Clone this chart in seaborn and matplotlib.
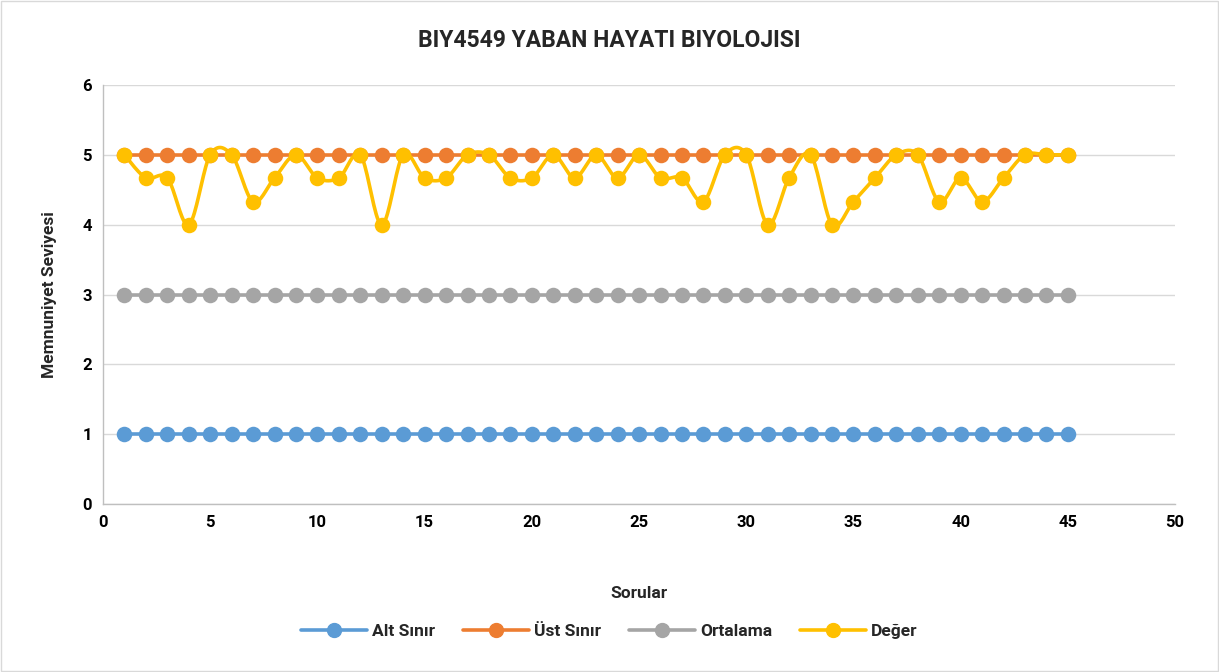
import numpy as np
import pandas as pd
import matplotlib
matplotlib.use("Agg")
import matplotlib.pyplot as plt
import seaborn as sns
from matplotlib.lines import Line2D

sorular = list(range(1, 46))
alt_sinir = [1] * 45
ust_sinir = [5] * 45
ortalama = [3] * 45
deger = [5, 4.67, 4.67, 4, 5, 5, 4.33, 4.67, 5, 4.67,
         4.67, 5, 4, 5, 4.67, 4.67, 5, 5, 4.67, 4.67,
         5, 4.67, 5, 4.67, 5, 4.67, 4.67, 4.33, 5, 5,
         4, 4.67, 5, 4, 4.33, 4.67, 5, 5, 4.33, 4.67,
         4.33, 4.67, 5, 5, 5]

series_names = ["Alt Sınır", "Üst Sınır", "Ortalama", "Değer"]
colors = ["#5B9BD5", "#ED7D31", "#A5A5A5", "#FFC000"]

sns.set_theme(style="white")
plt.rcParams['font.family'] = ['Roboto', 'DejaVu Sans']

fig = plt.figure(figsize=(12.19, 6.72), dpi=100)
ax = fig.add_axes([0.0845, 0.25, 0.8795, 0.6235])

def smooth(xs, ys, n=20):
    xs = np.asarray(xs, float); ys = np.asarray(ys, float)
    px = np.concatenate([[xs[0]], xs, [xs[-1]]])
    py = np.concatenate([[ys[0]], ys, [ys[-1]]])
    ox, oy = [], []
    t = np.linspace(0, 1, n)
    for i in range(1, len(px) - 2):
        p0 = np.array([px[i], py[i]]); p3 = np.array([px[i + 1], py[i + 1]])
        c1 = p0 + (np.array([px[i + 1], py[i + 1]]) - np.array([px[i - 1], py[i - 1]])) / 6
        c2 = p3 - (np.array([px[i + 2], py[i + 2]]) - np.array([px[i], py[i]])) / 6
        b = ((1 - t) ** 3)[:, None] * p0 + (3 * (1 - t) ** 2 * t)[:, None] * c1 \
            + (3 * (1 - t) * t ** 2)[:, None] * c2 + (t ** 3)[:, None] * p3
        ox.extend(b[:, 0]); oy.extend(b[:, 1])
    return np.array(ox), np.array(oy)

all_series = [alt_sinir, ust_sinir, ortalama, deger]
for name, vals, col in zip(series_names, all_series, colors):
    sx, sy = smooth(sorular, vals)
    ax.plot(sx, sy, color=col, lw=2.6, zorder=2, solid_capstyle='round')
    df = pd.DataFrame({"x": sorular, "y": vals})
    sns.scatterplot(data=df, x="x", y="y", ax=ax, color=col, s=125,
                    edgecolor=col, linewidth=0, zorder=3, legend=False)

ax.set_xlim(0, 50)
ax.set_ylim(0, 6)
ax.set_xticks(range(0, 51, 5))
ax.set_yticks(range(0, 7))
ax.yaxis.grid(True, color="#D9D9D9", lw=1)
ax.xaxis.grid(False)
ax.set_axisbelow(True)
for s in ["top", "right"]:
    ax.spines[s].set_visible(False)
for s in ["left", "bottom"]:
    ax.spines[s].set_color("#BFBFBF")
    ax.spines[s].set_linewidth(1)
ax.tick_params(axis='both', labelsize=12, colors="#000000", length=0, pad=8)
for lab in ax.get_xticklabels() + ax.get_yticklabels():
    lab.set_fontweight("bold")

ax.set_xlabel("Sorular", fontsize=12.5, fontweight="bold", labelpad=40)
ax.set_ylabel("Memnuniyet Seviyesi", fontsize=12.5, fontweight="bold", labelpad=18)
fig.text(0.5, 0.94, "BIY4549 YABAN HAYATI BIYOLOJISI", ha="center", va="center",
         fontsize=16.5, fontweight="bold")

handles = [Line2D([0], [0], color=c, lw=2.6, marker='o', markersize=10) for c in colors]
leg = fig.legend(handles, series_names, loc="center", bbox_to_anchor=(0.5, 0.06),
                 ncol=4, frameon=False, handlelength=3.8, columnspacing=1.6,
                 handletextpad=0.3, prop={"weight": "bold", "size": 12.5})

border = plt.Rectangle((0.001, 0.001), 0.998, 0.997, transform=fig.transFigure,
                       fill=False, edgecolor="#D9D9D9", lw=1)
fig.patches.append(border)

fig.savefig("out.png", dpi=100)
